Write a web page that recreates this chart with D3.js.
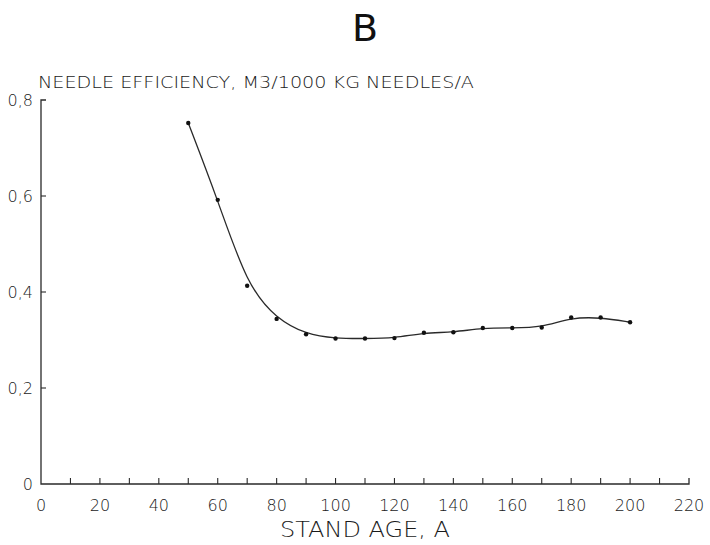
<!DOCTYPE html>
<html>
<head>
<meta charset="utf-8">
<script src="https://cdn.jsdelivr.net/npm/d3@7"></script>
<style>
  body { margin: 0; background: #fff; }
  text { font-family: "DejaVu Sans", "Liberation Sans", sans-serif; font-weight: 200; fill: #1a1a1a; }
</style>
</head>
<body>
<div id="chart"></div>
<script>
// stand age (years) and needle efficiency values
var ages = [50, 60, 70, 80, 90, 100, 110, 120, 130, 140, 150, 160, 170, 180, 190, 200];
var efficiency = [0.752, 0.592, 0.413, 0.344, 0.312, 0.303, 0.303, 0.304, 0.315, 0.316, 0.325, 0.325, 0.326, 0.347, 0.347, 0.337];
var xTicks = d3.range(0, 221, 10);
var xLabels = d3.range(0, 221, 20);
var yLabels = [0, 0.2, 0.4, 0.6, 0.8];

var width = 710, height = 545,
    margin = { top: 100, right: 21, bottom: 61, left: 41 },
    ink = "#2a2a2a";

var svg = d3.select("#chart").append("svg")
    .attr("width", width)
    .attr("height", height);

var x = d3.scaleLinear().domain([0, 220]).range([margin.left, width - margin.right]);
var y = d3.scaleLinear().domain([0, 0.8]).range([height - margin.bottom, margin.top]);

// title
svg.append("text")
    .attr("x", 365).attr("y", 41)
    .attr("text-anchor", "middle")
    .style("font-size", "38px")
    .style("font-weight", "normal")
    .style("fill", "#111")
    .text("B");

// y axis label
svg.append("text")
    .attr("x", 38).attr("y", 88)
    .attr("textLength", 436).attr("lengthAdjust", "spacingAndGlyphs")
    .style("font-size", "15px")
    .text("NEEDLE EFFICIENCY, M3/1000 KG NEEDLES/A");

// axes lines
svg.append("path")
    .attr("d", "M" + (x(0) + 5) + "," + y(0.8) + "H" + x(0) + "V" + y(0) + "H" + x(220) + "V" + (y(0) - 6))
    .attr("fill", "none").attr("stroke", ink).attr("stroke-width", 1.3);

// x ticks (inward)
svg.selectAll(".xtick").data(xTicks.filter(function (d) { return d > 0 && d < 220; }))
  .enter().append("line")
    .attr("x1", function (d) { return x(d); }).attr("x2", function (d) { return x(d); })
    .attr("y1", y(0)).attr("y2", y(0) - 6)
    .attr("stroke", ink).attr("stroke-width", 1.1);

svg.selectAll(".xlab").data(xLabels)
  .enter().append("text")
    .attr("x", function (d) { return x(d); })
    .attr("y", 511)
    .attr("text-anchor", "middle")
    .style("font-size", "16px")
    .text(function (d) { return d; });

// y ticks (inward)
svg.selectAll(".ytick").data(yLabels.filter(function (d) { return d > 0 && d < 0.8; }))
  .enter().append("line")
    .attr("x1", x(0)).attr("x2", x(0) + 5)
    .attr("y1", function (d) { return y(d); }).attr("y2", function (d) { return y(d); })
    .attr("stroke", ink).attr("stroke-width", 1.1);

svg.selectAll(".ylab").data(yLabels)
  .enter().append("text")
    .attr("x", 33)
    .attr("y", function (d) { return y(d) + 6; })
    .attr("text-anchor", "end")
    .style("font-size", "16px")
    .text(function (d) { return d === 0 ? "0" : String(d).replace(".", ","); });

svg.append("text")
    .attr("x", 365).attr("y", 537)
    .attr("text-anchor", "middle")
    .attr("textLength", 170).attr("lengthAdjust", "spacingAndGlyphs")
    .style("font-size", "21px")
    .text("STAND AGE, A");

// smoothed curve
var pts = ages.map(function (a, i) { return [a, efficiency[i]]; });
var line = d3.line()
    .x(function (d) { return x(d[0]); })
    .y(function (d) { return y(d[1]); })
    .curve(d3.curveBasis);

svg.append("path")
    .datum(pts)
    .attr("d", line)
    .attr("fill", "none").attr("stroke", ink).attr("stroke-width", 1.3);

svg.selectAll(".dot").data(pts)
  .enter().append("circle")
    .attr("cx", function (d) { return x(d[0]); })
    .attr("cy", function (d) { return y(d[1]); })
    .attr("r", 2.2)
    .attr("fill", "#111");
</script>
</body>
</html>
